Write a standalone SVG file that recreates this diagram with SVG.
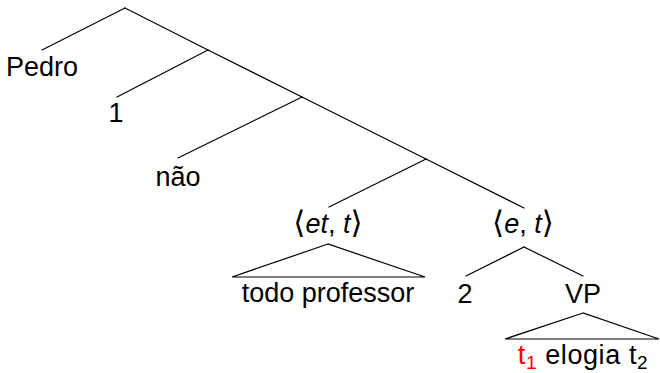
<svg xmlns="http://www.w3.org/2000/svg" width="660" height="373" viewBox="0 0 660 373">
<style>
.t{font-family:"Liberation Sans","DejaVu Sans",sans-serif;font-size:27px;fill:#000;text-anchor:middle}
.i{font-style:italic}
.b{font-size:31px}
.s{font-size:19px}
.r{fill:#ff0000}
.e{stroke:#000;stroke-width:1.2;fill:none;stroke-linecap:round;stroke-linejoin:miter}
</style>
<rect width="660" height="373" fill="#fff"/>
<g id="connectors">
<line class="e" x1="125" y1="8" x2="42" y2="50"/>
<line class="e" x1="125" y1="8" x2="208" y2="50"/>
<line class="e" x1="208" y1="50" x2="302" y2="97"/>
<line class="e" x1="302" y1="97" x2="426" y2="159"/>
<line class="e" x1="426" y1="159" x2="524" y2="208"/>
<line class="e" x1="208" y1="50" x2="117" y2="97"/>
<line class="e" x1="302" y1="97" x2="178" y2="158"/>
<line class="e" x1="426" y1="159" x2="329" y2="207"/>
<line class="e" x1="524" y1="247" x2="466" y2="276"/>
<line class="e" x1="524" y1="247" x2="583" y2="276"/>
</g>
<g id="n-pedro"><text class="t" x="42" y="76">Pedro</text></g>
<g id="n-1"><text class="t" x="116" y="122">1</text></g>
<g id="n-nao"><text class="t" x="178" y="186">não</text></g>
<g id="n-ett"><text class="t" x="328" y="233"><tspan class="b">⟨</tspan><tspan class="i">et</tspan>, <tspan class="i">t</tspan><tspan class="b">⟩</tspan></text></g>
<g id="n-ett-tri"><polygon class="e" points="328,244 232,277 425,277"/><text class="t" x="328" y="302">todo professor</text></g>
<g id="n-et"><text class="t" x="523" y="233"><tspan class="b">⟨</tspan><tspan class="i">e</tspan>, <tspan class="i">t</tspan><tspan class="b">⟩</tspan></text></g>
<g id="n-2"><text class="t" x="465" y="303">2</text></g>
<g id="n-vp"><text class="t" x="583" y="303">VP</text></g>
<g id="n-vp-tri"><polygon class="e" points="583,313 505,339 659,339"/><text class="t" x="583" y="364" letter-spacing="0.6"><tspan class="r">t</tspan><tspan class="s r" dy="5">1</tspan><tspan dy="-5"> elogia t</tspan><tspan class="s" dy="5">2</tspan></text></g>
</svg>
